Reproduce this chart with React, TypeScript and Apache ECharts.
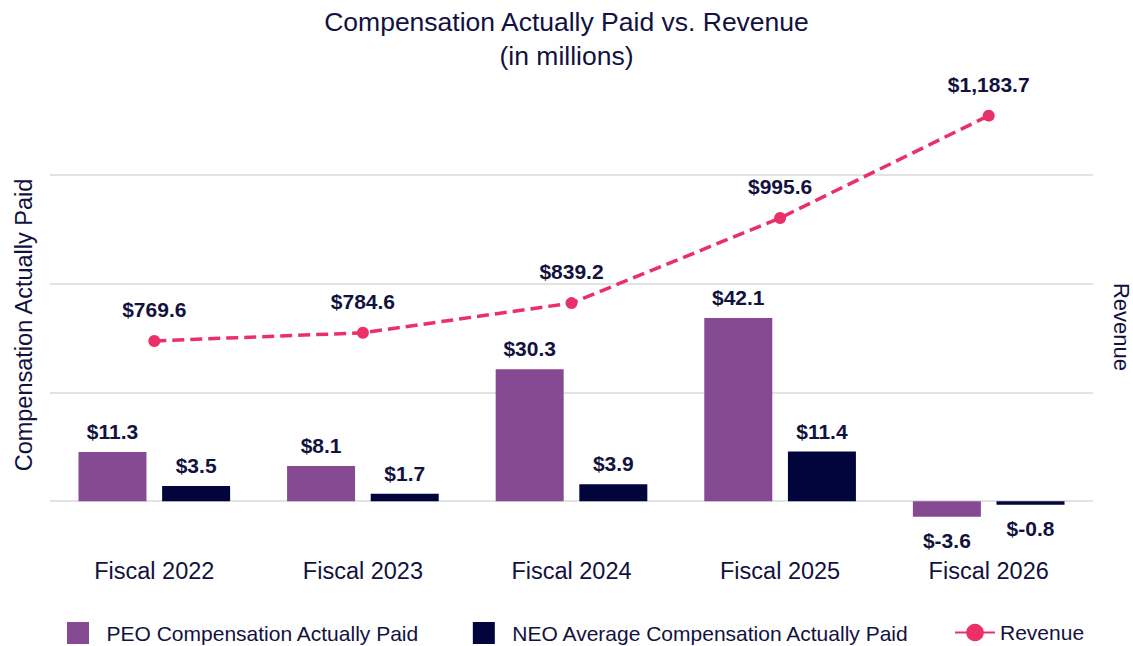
import React, { useEffect, useRef } from "react";
import * as echarts from "echarts";

const categories = ["Fiscal 2022", "Fiscal 2023", "Fiscal 2024", "Fiscal 2025", "Fiscal 2026"];
const peoValues = [11.3, 8.1, 30.3, 42.1, -3.6];
const neoValues = [3.5, 1.7, 3.9, 11.4, -0.8];
const revenueValues = [769.6, 784.6, 839.2, 995.6, 1183.7];

const NAVY = "#12123f";
const PURPLE = "#864a93";
const DARK = "#02053b";
const PINK = "#ea3068";
const FONT = "'Liberation Sans', Arial, sans-serif";
const SQUARE = "path://M0 0H10V10H0Z";

const fmt = (v: number) =>
  "$" + v.toLocaleString("en-US", { minimumFractionDigits: 1, maximumFractionDigits: 1 });

const barData = (vals: number[]) =>
  vals.map((v) => ({
    value: v,
    label: v < 0 ? { position: "bottom", distance: 13 } : { position: "top" },
  }));

export default function App() {
  const ref = useRef<HTMLDivElement>(null);
  useEffect(() => {
    if (!ref.current) return;
    const chart = echarts.init(ref.current, undefined, { renderer: "svg" });
    const labelStyle = {
      show: true,
      fontFamily: FONT,
      fontSize: 21,
      fontWeight: "bold",
      color: NAVY,
      distance: 10,
      formatter: (p: any) => fmt(p.value),
    };
    chart.setOption({
      animation: false,
      textStyle: { fontFamily: FONT },
      title: {
        text: "Compensation Actually Paid vs. Revenue\n(in millions)",
        left: "center",
        top: 0,
        textStyle: {
          fontFamily: FONT,
          fontSize: 26.5,
          fontWeight: "normal",
          color: NAVY,
          lineHeight: 34,
          align: "center",
        },
      },
      legend: [
        {
          data: [
            { name: "PEO Compensation Actually Paid", icon: SQUARE },
            { name: "NEO Average Compensation Actually Paid", icon: SQUARE },
          ],
          left: 67,
          top: 622,
          padding: 0,
          itemWidth: 47,
          itemHeight: 22,
          itemGap: 53.5,
          textStyle: { fontFamily: FONT, fontSize: 21, color: NAVY },
        },
        {
          data: ["Revenue"],
          left: 954,
          top: 622,
          padding: 0,
          itemWidth: 40,
          itemHeight: 22,
          lineStyle: { type: [13, 14] },
          textStyle: { fontFamily: FONT, fontSize: 21, color: NAVY },
        },
      ],
      grid: {
        left: 50,
        right: 40,
        top: 66,
        bottom: 36,
        containLabel: false,
        outerBoundsMode: "none",
      },
      xAxis: {
        type: "category",
        data: categories,
        axisLine: { show: false, onZero: false },
        axisTick: { show: false },
        axisLabel: { fontFamily: FONT, fontSize: 23.5, color: NAVY, margin: -51 },
      },
      yAxis: [
        {
          type: "value",
          min: -25,
          max: 100,
          interval: 25,
          axisLabel: { show: false },
          axisLine: { show: false },
          axisTick: { show: false },
          splitLine: {
            show: true,
            showMinLine: false,
            showMaxLine: false,
            lineStyle: { color: "#e3e3e3", width: 2 },
          },
        },
        {
          type: "value",
          min: 275,
          max: 1275,
          position: "right",
          axisLabel: { show: false },
          axisLine: { show: false },
          axisTick: { show: false },
          splitLine: { show: false },
        },
      ],
      graphic: [
        {
          type: "text",
          x: 24,
          y: 325,
          rotation: Math.PI / 2,
          style: {
            text: "Compensation Actually Paid",
            fontFamily: FONT,
            fontSize: 23.5,
            fill: NAVY,
            align: "center",
            verticalAlign: "middle",
          },
        },
        {
          type: "text",
          x: 1121,
          y: 327,
          rotation: -Math.PI / 2,
          style: {
            text: "Revenue",
            fontFamily: FONT,
            fontSize: 22,
            fill: NAVY,
            align: "center",
            verticalAlign: "middle",
          },
        },
      ],
      series: [
        {
          name: "PEO Compensation Actually Paid",
          type: "bar",
          yAxisIndex: 0,
          data: barData(peoValues),
          barWidth: 68,
          barGap: "23%",
          itemStyle: { color: PURPLE },
          label: labelStyle,
        },
        {
          name: "NEO Average Compensation Actually Paid",
          type: "bar",
          yAxisIndex: 0,
          data: barData(neoValues),
          barWidth: 68,
          barGap: "23%",
          itemStyle: { color: DARK },
          label: labelStyle,
        },
        {
          name: "Revenue",
          type: "line",
          yAxisIndex: 1,
          data: revenueValues,
          symbol: "circle",
          symbolSize: 12,
          itemStyle: { color: PINK },
          lineStyle: { color: PINK, width: 3.5, type: [12, 6] },
          label: { ...labelStyle, position: "top", distance: 15 },
          z: 5,
        },
      ],
    });
    return () => chart.dispose();
  }, []);
  return (
    <div
      ref={ref}
      style={{ position: "absolute", left: 0, top: 0, width: 1133, height: 646 }}
    />
  );
}
